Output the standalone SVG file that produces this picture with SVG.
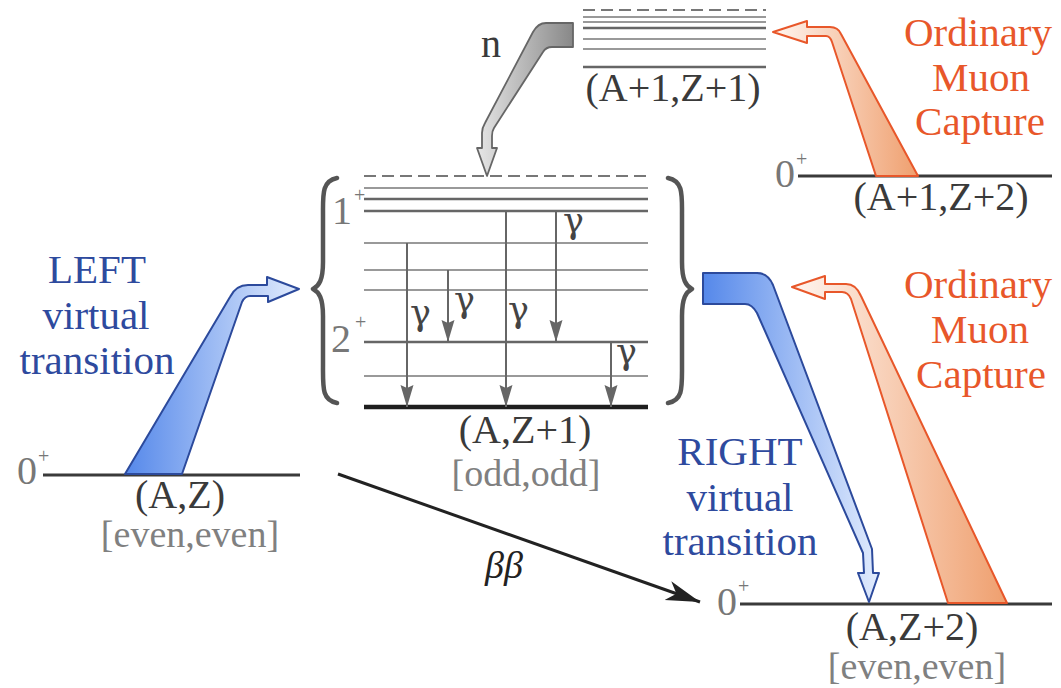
<svg xmlns="http://www.w3.org/2000/svg" width="1061" height="688" viewBox="0 0 1061 688">
<defs>
<linearGradient id="gBlue" x1="0" y1="0" x2="1" y2="0">
<stop offset="0" stop-color="#5588ea"/>
<stop offset="1" stop-color="#e2ecfd"/>
</linearGradient>
<linearGradient id="gOrange" x1="0" y1="0" x2="1" y2="0">
<stop offset="0" stop-color="#fff6f1"/>
<stop offset="1" stop-color="#ef9f6e"/>
</linearGradient>
<linearGradient id="gGray" x1="0" y1="0" x2="1" y2="0">
<stop offset="0" stop-color="#e6e6e6"/>
<stop offset="1" stop-color="#888888"/>
</linearGradient>
<marker id="gam" markerUnits="userSpaceOnUse" markerWidth="24" markerHeight="16" viewBox="0 -8 24 16" refX="22" refY="0" orient="auto">
<path d="M0,-6.5 L22,0 L0,6.5 L3,0 Z" fill="#666"/>
</marker>
<marker id="bb" markerUnits="userSpaceOnUse" markerWidth="36" markerHeight="22" viewBox="0 -11 36 22" refX="34" refY="0" orient="auto">
<path d="M0,-10 L34,0 L0,10 L9,0 Z" fill="#222"/>
</marker>
<style>
text{font-family:"Liberation Serif","Times New Roman",serif;}
.lbl{font-size:40px;fill:#3a3a3a;text-anchor:middle;}
.sub{font-size:38px;fill:#808080;text-anchor:middle;}
.spin{font-size:40px;fill:#777;}
.sup{font-size:20px;fill:#777;}
.blue{font-size:41px;fill:#2e4a9e;text-anchor:middle;}
.orng{font-size:41px;fill:#e8572a;text-anchor:middle;}
.gtxt{font-family:"DejaVu Serif",serif;font-size:35px;fill:#444;}
.thin{stroke:#777;stroke-width:1.5;fill:none;}
.med{stroke:#666;stroke-width:2.5;fill:none;}
.dash{stroke:#777;stroke-width:1.8;stroke-dasharray:12 6;fill:none;}
.gs{stroke:#3a3a3a;stroke-width:3;fill:none;}
.brace{stroke:#555;stroke-width:4.5;fill:none;stroke-linecap:round;stroke-linejoin:round;}
.garr{stroke:#666;stroke-width:2;fill:none;marker-end:url(#gam);}
.bl{fill:url(#gBlue);stroke:#2c4a9c;stroke-width:2;stroke-linejoin:round;}
.or{fill:url(#gOrange);stroke:#e8572a;stroke-width:2;stroke-linejoin:round;}
</style>
</defs>
<rect width="1061" height="688" fill="#ffffff"/>

<g id="node-A1Z1">
<line class="dash" x1="583" y1="10" x2="766" y2="10"/>
<line class="thin" x1="583" y1="17" x2="766" y2="17"/>
<line class="thin" x1="583" y1="22" x2="766" y2="22"/>
<line class="med" x1="583" y1="28" x2="766" y2="28"/>
<line class="thin" x1="583" y1="39" x2="766" y2="39"/>
<line class="thin" x1="583" y1="49" x2="766" y2="49"/>
<line class="med" x1="583" y1="67" x2="766" y2="67"/>
<text class="lbl" x="673" y="101" font-size="41">(A+1,Z+1)</text>
</g>

<g id="node-A1Z2">
<line class="gs" x1="798" y1="176" x2="1052" y2="176"/>
<text class="spin" x="775" y="187">0</text>
<text class="sup" x="796" y="166">+</text>
<text class="lbl" x="941" y="210" font-size="41">(A+1,Z+2)</text>
</g>

<g id="node-AZ1">
<line class="dash" x1="364" y1="176" x2="648" y2="176"/>
<line class="thin" x1="364" y1="188" x2="648" y2="188"/>
<line class="med" x1="364" y1="199" x2="648" y2="199"/>
<line class="med" x1="364" y1="211" x2="648" y2="211"/>
<line class="thin" x1="364" y1="243" x2="648" y2="243"/>
<line class="thin" x1="364" y1="270" x2="648" y2="270"/>
<line class="thin" x1="364" y1="290" x2="648" y2="290"/>
<line class="med" x1="364" y1="342" x2="648" y2="342"/>
<line class="thin" x1="364" y1="376" x2="648" y2="376"/>
<line x1="364" y1="407" x2="648" y2="407" stroke="#1e1e1e" stroke-width="4.5"/>
<path class="brace" d="M337,178 C322,181 323,194 323,214 L323,262 C323,280 319,286 313,289 C319,292 323,298 323,316 L323,366 C323,388 322,400 337,403"/>
<path class="brace" d="M668,178 C683,181 682,194 682,214 L682,262 C682,280 686,286 692,289 C686,292 682,298 682,316 L682,366 C682,388 683,400 668,403"/>
<text class="spin" x="332" y="224">1</text>
<text class="sup" x="354" y="202">+</text>
<text class="spin" x="331" y="352">2</text>
<text class="sup" x="355" y="329">+</text>
<text class="lbl" x="525" y="443">(A,Z+1)</text>
<text class="sub" x="526" y="486">[odd,odd]</text>
</g>

<g id="node-AZ">
<line class="gs" x1="43" y1="475" x2="300" y2="475"/>
<text class="spin" x="17" y="484">0</text>
<text class="sup" x="38" y="463">+</text>
<text class="lbl" x="180" y="508">(A,Z)</text>
<text class="sub" x="190" y="547">[even,even]</text>
</g>

<g id="node-AZ2">
<line class="gs" x1="740" y1="604" x2="1052" y2="604"/>
<text class="spin" x="717" y="615">0</text>
<text class="sup" x="738" y="593">+</text>
<text class="lbl" x="912" y="640">(A,Z+2)</text>
<text class="sub" x="917" y="679">[even,even]</text>
</g>

<g id="connectors">
<path d="M546,23 L573,23 L573,47 L552,47 Q546,47 543,52 L494,128 Q492,131 492,136 L492,148 L497,148 L487,176 L477,148 L482,148 L482,133 Q482,128 485,123 L533,32 Q538,23 546,23 Z" fill="url(#gGray)" stroke="#666" stroke-width="1.8" stroke-linejoin="round"/>
<text class="lbl" x="491" y="57" fill="#333">n</text>

<path class="bl" d="M125,474 L230,297 Q236,285 248,285 L267,285 L267,277 L299,289 L268,302 L268,296 L250,296 Q245,296 242,302 L182,474 Z"/>
<path class="bl" d="M703,273 L757,273 Q768,273 773,285 L872,549 L873,573 L879,573 L869,602 L858,573 L864,573 L863,553 L757,313 Q752,304 745,304 L703,304 Z"/>
<path class="or" d="M1007,603 L861,296 Q856,284 846,284 L825,284 L825,276 L792,287 L825,299 L825,292 L842,292 Q848,292 851,299 L948,603 Z"/>
<path class="or" d="M918,176 L841,34 Q838,27 830,27 L807,27 L807,21 L773,32 L807,43 L807,36 L826,36 Q830,36 832,42 L876,176 Z"/>

<line x1="338" y1="474" x2="700" y2="602" stroke="#222" stroke-width="3" marker-end="url(#bb)"/>
<text x="485" y="578" font-size="38" font-style="italic" fill="#222">ββ</text>

<line class="garr" x1="407" y1="243" x2="407" y2="407"/>
<line class="garr" x1="448" y1="270" x2="448" y2="342"/>
<line class="garr" x1="506" y1="211" x2="506" y2="407"/>
<line class="garr" x1="556" y1="211" x2="556" y2="342"/>
<line class="garr" x1="611" y1="342" x2="611" y2="407"/>
<text class="gtxt" x="410" y="325">γ</text>
<text class="gtxt" x="454" y="312">γ</text>
<text class="gtxt" x="508" y="322">γ</text>
<text class="gtxt" x="563" y="233">γ</text>
<text class="gtxt" x="616" y="364">γ</text>

<text class="blue" x="97" y="283">LEFT</text>
<text class="blue" x="96" y="329">virtual</text>
<text class="blue" x="97" y="374">transition</text>
<text class="blue" x="740" y="465">RIGHT</text>
<text class="blue" x="740" y="511">virtual</text>
<text class="blue" x="740" y="555">transition</text>

<text class="orng" x="978" y="46">Ordinary</text>
<text class="orng" x="981" y="91">Muon</text>
<text class="orng" x="980" y="135">Capture</text>
<text class="orng" x="978" y="298">Ordinary</text>
<text class="orng" x="980" y="343">Muon</text>
<text class="orng" x="981" y="388">Capture</text>
</g>
</svg>
